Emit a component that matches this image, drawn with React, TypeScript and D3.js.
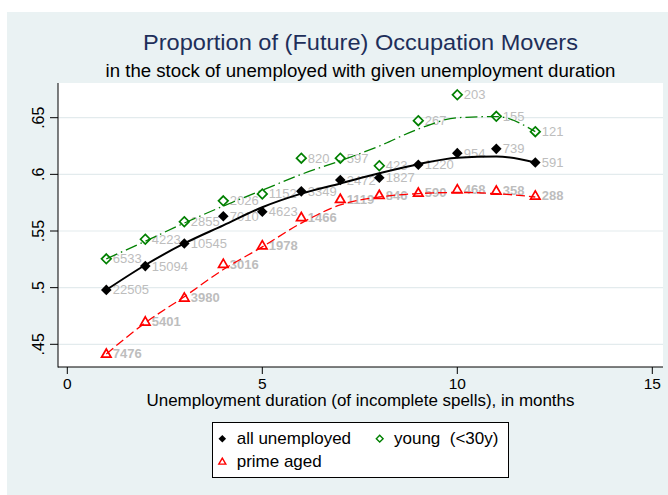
import React from 'react';
import * as d3 from 'd3';

// months of (incomplete) unemployment spells
const months = [1, 2, 3, 4, 5, 6, 7, 8, 9, 10, 11, 12];

// proportion of occupation movers, observed
const allUnemp = [0.498, 0.519, 0.539, 0.563, 0.567, 0.585, 0.595, 0.597, 0.6085, 0.6187, 0.6225, 0.6105];
const young = [0.5254, 0.5427, 0.5582, 0.5766, 0.5827, 0.6143, 0.6143, 0.6076, 0.6474, 0.6702, 0.6512, 0.6377];
const prime = [0.4415, 0.4699, 0.491, 0.5208, 0.5371, 0.562, 0.5781, 0.5816, 0.5836, 0.5866, 0.5854, 0.581];

// fitted curves
const allFit = [0.498, 0.52, 0.539, 0.555, 0.571, 0.583, 0.592, 0.601, 0.609, 0.6147, 0.6158, 0.6105];
const youngFit = [0.5254, 0.541, 0.557, 0.572, 0.586, 0.6, 0.612, 0.625, 0.64, 0.65, 0.651, 0.6377];
const primeFit = [0.4415, 0.469, 0.492, 0.516, 0.536, 0.557, 0.573, 0.58, 0.583, 0.584, 0.583, 0.58];

// number of observations (marker labels)
const allN = [22505, 15094, 10545, 7010, 4623, 3349, 2472, 1827, 1220, 954, 739, 591];
const youngN = [6533, 4223, 2855, 2026, 1152, 820, 597, 423, 267, 203, 155, 121];
const primeN = [7476, 5401, 3980, 3016, 1978, 1466, 1119, 846, 590, 468, 358, 288];

const xTicks = [0, 5, 10, 15];
const yTicks = [0.45, 0.5, 0.55, 0.6, 0.65];
const yTickLabels = ['.45', '.5', '.55', '.6', '.65'];

const font = '"Liberation Sans", Arial, sans-serif';
const GREEN = '#008000';
const RED = '#ff0000';
const LABEL = '#bdbdbd';

const diamond = (cx: number, cy: number, r: number) =>
  `M${cx},${cy - r}L${cx + r},${cy}L${cx},${cy + r}L${cx - r},${cy}Z`;
const triangle = (cx: number, cy: number, s: number) => {
  const h = s * 0.866;
  return `M${cx},${cy - h * 0.6}L${cx + s / 2},${cy + h * 0.4}L${cx - s / 2},${cy + h * 0.4}Z`;
};

export default function App() {
  const width = 668;
  const height = 495;
  const plot = { left: 58, right: 663, top: 83, bottom: 367 };

  const x = d3.scaleLinear().domain([0, 15]).range([67.3, 652.3]);
  const y = d3.scaleLinear().domain([0.45, 0.65]).range([344.3, 117.7]);

  const line = (vals: number[]) =>
    d3.line<number>()
      .x((_, i) => x(months[i]))
      .y(d => y(d))
      .curve(d3.curveMonotoneX)(vals) || '';

  return (
    <svg width={width} height={height} style={{ position: 'absolute', left: 0, top: 0 }}
      fontFamily={font}>
      <rect x={7} y={12} width={661} height={483} fill="#eaf2f3" />
      <rect x={plot.left} y={plot.top} width={plot.right - plot.left} height={plot.bottom - plot.top} fill="#fff" />

      {/* titles */}
      <text x={360.5} y={50} textAnchor="middle" fontSize={22} fill="#1e2f5a"
        textLength={435} lengthAdjust="spacingAndGlyphs">Proportion of (Future) Occupation Movers</text>
      <text x={360.5} y={76.5} textAnchor="middle" fontSize={17.5} fill="#000"
        textLength={510} lengthAdjust="spacingAndGlyphs">in the stock of unemployed with given unemployment duration</text>

      {/* gridlines */}
      {yTicks.map(t => (
        <line key={t} x1={plot.left} x2={plot.right} y1={y(t)} y2={y(t)} stroke="#e3ebed" strokeWidth={1.2} />
      ))}

      {/* y axis */}
      <line x1={plot.left} x2={plot.left} y1={plot.top} y2={plot.bottom + 0.5} stroke="#000" strokeWidth={1} />
      {yTicks.map((t, i) => (
        <g key={t}>
          <line x1={50} x2={plot.left} y1={y(t)} y2={y(t)} stroke="#000" strokeWidth={1} />
          <text transform={`translate(44,${y(t)}) rotate(-90)`} textAnchor="middle" fontSize={16}>
            {yTickLabels[i]}
          </text>
        </g>
      ))}

      {/* x axis */}
      <line x1={plot.left} x2={plot.right} y1={plot.bottom} y2={plot.bottom} stroke="#000" strokeWidth={1} />
      {xTicks.map(t => (
        <g key={t}>
          <line x1={x(t)} x2={x(t)} y1={plot.bottom} y2={plot.bottom + 7} stroke="#000" strokeWidth={1} />
          <text x={x(t)} y={389} textAnchor="middle" fontSize={15.5}>{t}</text>
        </g>
      ))}
      <text x={360.5} y={406} textAnchor="middle" fontSize={16.5}
        textLength={428} lengthAdjust="spacingAndGlyphs">Unemployment duration (of incomplete spells), in months</text>

      {/* scatter: all unemployed */}
      {allUnemp.map((v, i) => (
        <g key={'a' + i}>
          <text x={x(months[i]) + 6.5} y={y(v)} dominantBaseline="central" fontSize={13} fill={LABEL}>{allN[i]}</text>
          <path d={diamond(x(months[i]), y(v), 5.3)} fill="#000" />
        </g>
      ))}
      {/* scatter: young */}
      {young.map((v, i) => (
        <g key={'y' + i}>
          <text x={x(months[i]) + 6.5} y={y(v)} dominantBaseline="central" fontSize={13} fill={LABEL}>{youngN[i]}</text>
          <path d={diamond(x(months[i]), y(v), 4.8)} fill="none" stroke={GREEN} strokeWidth={1.7} />
        </g>
      ))}
      {/* scatter: prime aged */}
      {prime.map((v, i) => (
        <g key={'p' + i}>
          <text x={x(months[i]) + 6.5} y={y(v)} dominantBaseline="central" fontSize={13} fontWeight="bold" fill={LABEL}>{primeN[i]}</text>
          <path d={triangle(x(months[i]), y(v), 9.5)} fill="none" stroke={RED} strokeWidth={1.7} />
        </g>
      ))}

      {/* fitted lines */}
      <path d={line(allFit)} fill="none" stroke="#000" strokeWidth={2} />
      <path d={line(youngFit)} fill="none" stroke={GREEN} strokeWidth={1.3} strokeDasharray="12,4,1.5,4" />
      <path d={line(primeFit)} fill="none" stroke={RED} strokeWidth={1.3} strokeDasharray="9,4" />

      {/* legend */}
      <rect x={212.5} y={422.5} width={296} height={55} fill="#fff" stroke="#000" strokeWidth={1} />
      <path d={diamond(222.3, 438.7, 3.8)} fill="#000" />
      <text x={236.7} y={444.3} fontSize={17}>all unemployed</text>
      <path d={diamond(379.7, 438.7, 3.4)} fill="none" stroke={GREEN} strokeWidth={1.4} />
      <text x={394} y={444.3} fontSize={17} style={{ whiteSpace: 'pre' }}>young  (&lt;30y)</text>
      <path d={triangle(222.3, 461.7, 7)} fill="none" stroke={RED} strokeWidth={1.4} />
      <text x={236.7} y={467.3} fontSize={17}>prime aged</text>
    </svg>
  );
}
